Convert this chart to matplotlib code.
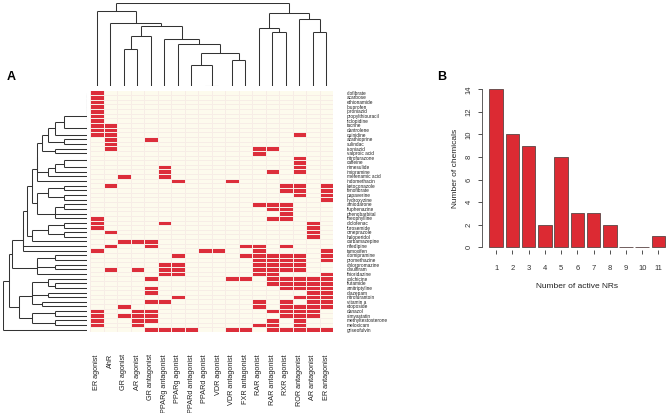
import numpy as np
import matplotlib.pyplot as plt
from matplotlib.colors import ListedColormap

plt.rcParams['font.family'] = ['Liberation Sans', 'DejaVu Sans']

# ---- data ----
chemicals = ['clofibrate', 'acarbose', 'ethionamide', 'ibuprofen', 'iproniazid',
             'propylthiouracil', 'ticlopidine', 'tacrine', 'dantrolene', 'quinidine',
             'azathioprine', 'sulindac', 'isoniazid', 'valproic acid', 'nitrofurazone',
             'caffeine', 'nimesulide', 'imipramine', 'mefenamic acid', 'indomethacin',
             'ketoconazole', 'fenofibrate', 'papaverine', 'hydroxyzine', 'amiodarone',
             'fluphenazine', 'phenobarbital', 'theophylline', 'diclofenac', 'furosemide',
             'omeprazole', 'haloperidol', 'carbamazepine', 'nifedipine', 'tamoxifen',
             'clomipramine', 'promethazine', 'chlorpromazine', 'disulfiram', 'thioridazine',
             'colchicine', 'flutamide', 'amitriptyline', 'diazepam', 'nitrofurantoin',
             'vitamin a', 'etoposide', 'danazol', 'simvastatin', 'methyltestosterone',
             'meloxicam', 'griseofulvin']

receptors = ['ER agonist', 'AhR', 'GR agonist', 'AR agonist', 'GR antagonist',
             'PPARg antagonist', 'PPARg agonist', 'PPARd antagonist', 'PPARd agonist',
             'VDR agonist', 'VDR antagonist', 'FXR antagonist', 'RAR agonist',
             'RAR antagonist', 'RXR agonist', 'ROR antagonist', 'AR antagonist',
             'ER antagonist']

# active receptors (column index) for each chemical, top to bottom
active = [
    [0], [0], [0], [0], [0], [0], [0],
    [0, 1], [0, 1], [0, 1, 15], [1, 4], [1], [1, 12, 13], [12],
    [15], [15], [5, 15], [5, 13, 15], [2, 5], [6, 10],
    [1, 14, 15, 17], [14, 15, 17], [15, 17], [17],
    [12, 13, 14], [13, 14], [14], [0, 13, 14], [0, 5, 16], [0, 16], [1, 16], [16],
    [2, 3, 4], [1, 4, 11, 12, 14], [0, 8, 9, 12, 17],
    [6, 11, 12, 13, 14, 15, 17], [12, 13, 14, 15, 17], [5, 6, 12, 13, 14, 15],
    [1, 3, 5, 6, 12, 13, 14, 15], [5, 6, 12, 13, 17],
    [4, 10, 11, 13, 14, 15, 16, 17], [13, 14, 15, 16, 17], [4, 14, 15, 16, 17],
    [4, 16, 17], [6, 15, 16, 17], [4, 5, 12, 14, 16, 17], [2, 12, 14, 15, 16, 17],
    [0, 3, 4, 13, 14, 15, 16], [0, 2, 3, 4, 14, 15, 16], [0, 3, 4, 13, 15],
    [0, 3, 12, 13, 15], [4, 5, 6, 7, 10, 11, 13, 14, 15, 16, 17],
]

# column dendrogram as read: (child, child, height); ids >= 18 are earlier merges
col_merges = [
    (8, 9, 0.0), (7, 18, 1.41), (10, 11, 1.73), (19, 20, 2.24), (6, 21, 2.83),
    (5, 22, 3.16), (2, 3, 2.45), (24, 4, 3.32), (25, 23, 4.0), (1, 26, 4.24),
    (0, 27, 5.0), (13, 14, 3.61), (12, 29, 3.87), (16, 17, 3.61), (15, 31, 4.47),
    (30, 32, 4.85), (28, 33, 5.57),
]

n_active = list(range(1, 12))
n_chem = [14, 10, 9, 2, 8, 3, 3, 2, 0, 0, 1]

# ---- helpers ----
W, H = 667, 413
fig = plt.figure(figsize=(W / 100, H / 100), dpi=100)


def px_axes(x0, y0, x1, y1):
    return fig.add_axes([x0 / W, 1 - y1 / H, (x1 - x0) / W, (y1 - y0) / H])


def ordered_complete_linkage(X):
    # complete linkage on euclidean distance, merging only neighbours in the shown order
    d = np.sqrt(((X[:, None, :] - X[None, :, :]) ** 2).sum(-1))
    groups = [[i] for i in range(len(X))]
    ids = list(range(len(X)))
    merges = []
    nid = len(X)
    while len(groups) > 1:
        gaps = [d[np.ix_(groups[k], groups[k + 1])].max() for k in range(len(groups) - 1)]
        k = int(np.argmin(gaps))
        merges.append((ids[k], ids[k + 1], gaps[k]))
        groups[k:k + 2] = [groups[k] + groups[k + 1]]
        ids[k:k + 2] = [nid]
        nid += 1
    return merges


def draw_dendro(ax, merges, n, horizontal=False, color='#333333', lw=0.75):
    pos = {i: float(i) for i in range(n)}
    hgt = {i: 0.0 for i in range(n)}
    for k, (a, b, h) in enumerate(merges):
        segs = [([pos[a], pos[a]], [hgt[a], h]),
                ([pos[b], pos[b]], [hgt[b], h]),
                ([pos[a], pos[b]], [h, h])]
        for p, q in segs:
            if horizontal:
                ax.plot(q, p, color=color, lw=lw, solid_capstyle='butt')
            else:
                ax.plot(p, q, color=color, lw=lw, solid_capstyle='butt')
        pos[n + k] = (pos[a] + pos[b]) / 2
        hgt[n + k] = h
    return max(m[2] for m in merges)


M = np.zeros((len(chemicals), len(receptors)))
for r, cols in enumerate(active):
    M[r, cols] = 1

nr, nc = M.shape

# ---- panel A: heatmap ----
ax_hm = px_axes(90, 90.5, 333, 332)
ax_hm.pcolormesh(np.arange(nc + 1) - 0.5, np.arange(nr + 1) - 0.5, M,
                 cmap=ListedColormap(['#fdfbed', '#dc2e3a']),
                 edgecolors='#f7ede6', linewidth=0.6)
ax_hm.set_xlim(-0.5, nc - 0.5)
ax_hm.set_ylim(nr - 0.5, -0.5)
ax_hm.yaxis.tick_right()
ax_hm.set_yticks(range(nr))
ax_hm.set_yticklabels(chemicals, fontsize=3.4, color='#222222')
ax_hm.set_xticks(range(nc))
ax_hm.set_xticklabels(receptors, fontsize=5.2, rotation=90, va='top', color='#222222')
ax_hm.tick_params(axis='y', length=0, pad=10)
ax_hm.tick_params(axis='x', length=0, pad=16)
for s in ax_hm.spines.values():
    s.set_visible(False)

# column dendrogram
ax_top = px_axes(90, 2.7, 333, 86)
top_h = draw_dendro(ax_top, col_merges, nc)
ax_top.set_xlim(-0.5, nc - 0.5)
ax_top.set_ylim(0, top_h)
ax_top.axis('off')

# row dendrogram
ax_left = px_axes(2.7, 90.5, 87, 332)
row_h = draw_dendro(ax_left, ordered_complete_linkage(M), nr, horizontal=True)
ax_left.set_xlim(row_h, 0)
ax_left.set_ylim(nr - 0.5, -0.5)
ax_left.axis('off')

fig.text(11 / W, 1 - 77 / H, 'A', fontsize=9, fontweight='bold', ha='center', va='center')
fig.text(442 / W, 1 - 77 / H, 'B', fontsize=9, fontweight='bold', ha='center', va='center')

# ---- panel B: bar chart ----
ax_b = px_axes(482.3, 83, 672.3, 253.6)
centers = [0.7 + 1.2 * i for i in range(len(n_active))]
ax_b.bar(centers, n_chem, width=1.0, color='#dc2a33', edgecolor='#5a4444', linewidth=0.6)
ax_b.set_xlim(-0.32, 13.72)
ax_b.set_ylim(-0.56, 14.56)
ax_b.set_xticks(centers)
ax_b.set_xticklabels([str(v) for v in n_active])
ax_b.set_yticks(range(0, 15, 2))
ax_b.tick_params(axis='both', labelsize=5.5, colors='#333333', length=3, width=0.6)
ax_b.tick_params(axis='x', pad=8)
ax_b.tick_params(axis='y', labelrotation=90, pad=4)
for lab in ax_b.get_yticklabels():
    lab.set_va('center')
for s in ['top', 'right']:
    ax_b.spines[s].set_visible(False)
ax_b.spines['left'].set_bounds(0, 14)
ax_b.spines['left'].set_linewidth(0.6)
ax_b.spines['left'].set_color('#444444')
ax_b.spines['bottom'].set_position(('data', -0.25))
ax_b.spines['bottom'].set_visible(False)
ax_b.set_ylabel('Number of chemicals', fontsize=6, color='#222222')
ax_b.yaxis.set_label_coords((459 - 482.3) / 190, 0.5)
ax_b.set_xlabel('Number of active NRs', fontsize=6, color='#222222')
ax_b.xaxis.set_label_coords(0.5, (253.6 - 283) / 170.6)

fig.savefig('out.png', dpi=100)
